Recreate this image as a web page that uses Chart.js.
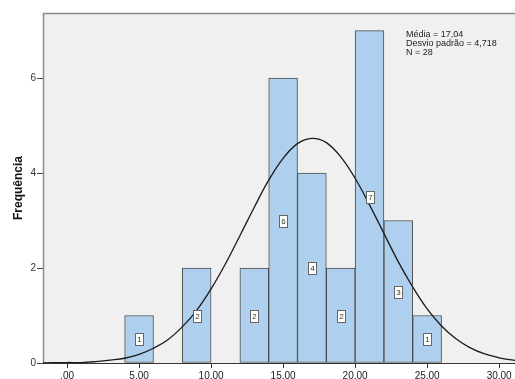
<!DOCTYPE html>
<html>
<head>
<meta charset="utf-8">
<script src="https://cdn.jsdelivr.net/npm/chart.js@4/dist/chart.umd.min.js"></script>
<style>
  html, body { margin: 0; padding: 0; background: #fff; }
  #wrap { width: 515px; height: 379px; position: relative; }
</style>
</head>
<body>
<div id="wrap"><canvas id="hist"></canvas></div>
<script>
// histogram bins (center of each 2-wide bin) and counts
const binCenters = [5, 9, 13, 15, 17, 19, 21, 23, 25];
const binCounts = [1, 2, 2, 6, 4, 2, 7, 3, 1];

// fitted normal curve
const curveX = [-2, 0, 1, 2, 3, 4, 5, 6, 7, 8, 9, 10, 11, 12, 13, 14, 15, 16, 17,
  18, 19, 20, 21, 22, 23, 24, 25, 26, 27, 28, 29, 30, 31, 32];
const curveY = [0.00, 0.01, 0.01, 0.03, 0.06, 0.10, 0.18, 0.31, 0.49, 0.76, 1.11, 1.56,
  2.09, 2.68, 3.28, 3.85, 4.31, 4.62, 4.73, 4.64, 4.34, 3.89, 3.33, 2.73, 2.13, 1.60,
  1.14, 0.78, 0.51, 0.32, 0.19, 0.11, 0.06, 0.03];

const xTicks = [0, 5, 10, 15, 20, 25, 30];
const yTicks = [0, 2, 4, 6];
const statsLines = ["Média = 17,04", "Desvio padrão = 4,718", "N = 28"];

const FONT = "'Liberation Sans', Arial, sans-serif";

// plot background, frame and the count boxes / stats text
const spssPlugin = {
  id: "spss",
  beforeDatasetsDraw(chart) {
    const { ctx, chartArea: a } = chart;
    ctx.save();
    ctx.fillStyle = "#f0f0f0";
    ctx.fillRect(a.left, a.top, a.right - a.left, a.bottom - a.top);
    ctx.strokeStyle = "#8c8c8c";
    ctx.lineWidth = 1.5;
    ctx.beginPath();
    ctx.moveTo(a.left + 0.5, a.bottom);
    ctx.lineTo(a.left + 0.5, a.top + 0.5);
    ctx.lineTo(a.right, a.top + 0.5);
    ctx.stroke();
    ctx.restore();
  },
  afterDatasetsDraw(chart) {
    const { ctx, scales } = chart;
    ctx.save();
    ctx.font = "8px " + FONT;
    ctx.textAlign = "center";
    ctx.textBaseline = "middle";
    binCenters.forEach((c, i) => {
      const px = Math.round(scales.x.getPixelForValue(c));
      const py = Math.round(scales.y.getPixelForValue(binCounts[i] / 2));
      ctx.fillStyle = "#ffffff";
      ctx.fillRect(px - 4, py - 6, 8, 12);
      ctx.strokeStyle = "#666";
      ctx.lineWidth = 1;
      ctx.strokeRect(px - 3.5, py - 5.5, 8, 12);
      ctx.fillStyle = "#333";
      ctx.fillText(String(binCounts[i]), px + 0.5, py + 0.5);
    });
    // axis line at the bottom
    const a = chart.chartArea;
    ctx.strokeStyle = "#333";
    ctx.beginPath();
    ctx.moveTo(a.left, a.bottom + 0.5);
    ctx.lineTo(a.right, a.bottom + 0.5);
    ctx.stroke();

    ctx.font = "9px " + FONT;
    ctx.textAlign = "left";
    ctx.fillStyle = "#222";
    statsLines.forEach((t, i) => ctx.fillText(t, 406, 35 + i * 9));
    ctx.restore();
  }
};

new Chart(document.getElementById("hist"), {
  type: "bar",
  data: {
    datasets: [
      {
        type: "line",
        data: curveX.map((x, i) => ({ x: x, y: curveY[i] })),
        borderColor: "#1a1a1a",
        borderWidth: 1.3,
        pointRadius: 0,
        tension: 0.4,
        fill: false,
        order: 0
      },
      {
        type: "bar",
        data: binCenters.map((c, i) => ({ x: c, y: binCounts[i] })),
        backgroundColor: "#aed0ee",
        borderColor: "#4d4d4d",
        borderWidth: 1,
        borderSkipped: false,
        barPercentage: 1,
        categoryPercentage: 1,
        order: 1
      }
    ]
  },
  options: {
    responsive: true,
    maintainAspectRatio: false,
    animation: false,
    layout: { padding: { top: 13, right: 0, left: 0, bottom: 0 } },
    plugins: { legend: { display: false }, tooltip: { enabled: false } },
    scales: {
      x: {
        type: "linear",
        offset: false,
        min: -1.67,
        max: 31.1,
        afterBuildTicks: (s) => { s.ticks = xTicks.map(v => ({ value: v })); },
        afterFit: (s) => { s.height = 16; },
        ticks: {
          callback: (v) => v === 0 ? ".00" : v.toFixed(2),
          font: { family: FONT, size: 10 },
          color: "#222",
          padding: 2,
          maxRotation: 0
        },
        grid: { drawOnChartArea: false, offset: false, tickLength: 5, color: "#333" },
        border: { display: false }
      },
      y: {
        min: 0,
        max: 7.37,
        afterBuildTicks: (s) => { s.ticks = yTicks.map(v => ({ value: v })); },
        afterFit: (s) => { s.width = 43; },
        ticks: {
          font: { family: FONT, size: 10 },
          color: "#333",
          padding: 1
        },
        grid: { drawOnChartArea: false, tickLength: 6, color: "#444" },
        border: { display: false },
        title: {
          display: true,
          text: "Frequência",
          font: { family: FONT, size: 12, weight: "bold" },
          color: "#111",
          padding: { top: 11, bottom: 0 }
        }
      }
    }
  },
  plugins: [spssPlugin]
});
</script>
</body>
</html>
